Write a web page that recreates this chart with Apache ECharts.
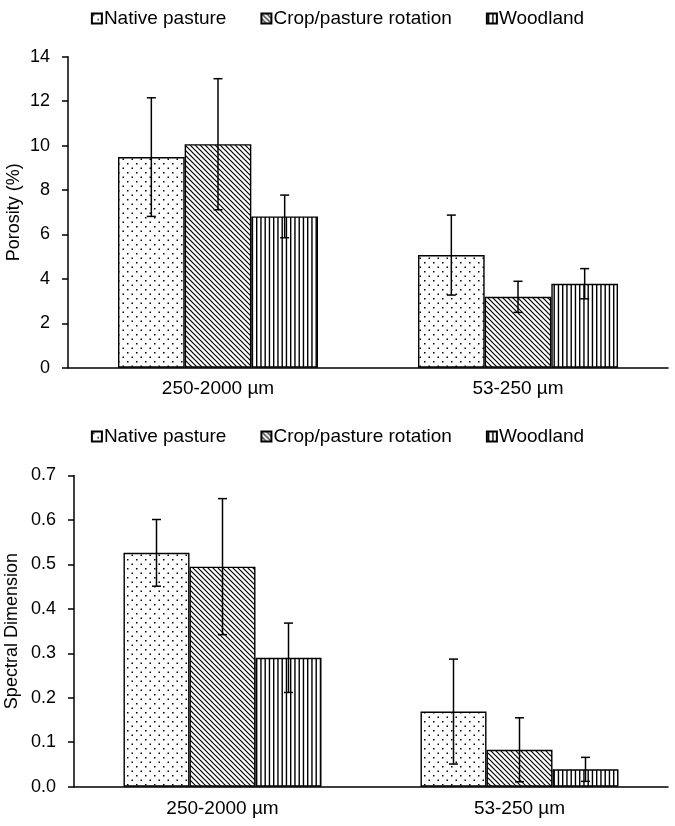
<!DOCTYPE html>
<html>
<head>
	<meta charset="utf-8">
	<title>Porosity and spectral dimension</title>
	<script type="text/javascript" src="https://cdn.jsdelivr.net/npm/echarts@6/dist/echarts.min.js"></script>
<style type="text/css">
html, body {
	margin: 0;
	padding: 0;
	background: #fff;
}
#main {
	width: 675px;
	height: 826px;
}
</style>
</head>
<body>
	<div id="main"></div>

<script type="text/javascript">

var categories = ['250-2000 µm', '53-250 µm'];
var seriesNames = ['Native pasture', 'Crop/pasture rotation', 'Woodland'];

// top panel: porosity (%), mean and +/- error
var porosityNative = [9.48, 5.07];
var porosityCrop = [10.06, 3.19];
var porosityWood = [6.81, 3.78];
var porosityNativeErr = [2.67, 1.8];
var porosityCropErr = [2.95, 0.7];
var porosityWoodErr = [0.96, 0.68];
var porosityTicks = [0, 14, 2];   // min, max, interval

// bottom panel: spectral dimension
var spectralNative = [0.526, 0.169];
var spectralCrop = [0.495, 0.083];
var spectralWood = [0.29, 0.039];
var spectralNativeErr = [0.075, 0.118];
var spectralCropErr = [0.153, 0.072];
var spectralWoodErr = [0.078, 0.027];
var spectralTicks = [0, 0.7, 0.1];

var FONT = '"Liberation Sans", Arial, sans-serif';
var GAP = 1 / 3;   // barCategoryGap

// fill patterns, drawn once on small canvases
function makeTile(w, h, draw)
{
	var c = document.createElement('canvas');
	c.width = w;
	c.height = h;
	var ctx = c.getContext('2d');
	ctx.fillStyle = '#fff';
	ctx.fillRect(0, 0, w, h);
	ctx.fillStyle = '#000';
	ctx.strokeStyle = '#000';
	draw(ctx, w, h);
	return c;
}

var dotTile = makeTile(9, 9, function(ctx){
	ctx.fillRect(1, 1, 1.5, 1.5);
	ctx.fillRect(5.5, 5.5, 1.5, 1.5);
});

var diagTile = makeTile(5, 5, function(ctx, w, h){
	ctx.lineWidth = 1.2;
	for (var k = -w; k <= w; k += w)
	{
		ctx.beginPath();
		ctx.moveTo(-1, k - 1);
		ctx.lineTo(w + 1, k + w + 1);
		ctx.stroke();
	}
});

var vertTile = makeTile(17, 4, function(ctx){
	for (var i = 0; i < 4; i ++)
	{
		ctx.fillRect(1 + i * 4.25, 0, 1.4, 4);
	}
});

var patterns = [
	{image: dotTile, repeat: 'repeat'},
	{image: diagTile, repeat: 'repeat'},
	{image: vertTile, repeat: 'repeat'}
];

function barSeries(name, idx, axisIdx, data)
{
	return {
		name: name,
		type: 'bar',
		xAxisIndex: axisIdx,
		yAxisIndex: axisIdx,
		data: data,
		barGap: '0%',
		barCategoryGap: (GAP * 100) + '%',
		itemStyle: {
			color: patterns[idx],
			borderColor: '#000',
			borderWidth: 1.4
		},
		emphasis: {disabled: true},
		silent: true
	};
}

// rows: [category, seriesIdx, low, high]
function errorRows(means, errs)
{
	var rows = [];
	for (var s = 0; s < means.length; s ++)
	{
		for (var c = 0; c < means[s].length; c ++)
		{
			rows.push([c, s, means[s][c] - errs[s][c], means[s][c] + errs[s][c]]);
		}
	}
	return rows;
}

function renderError(params, api)
{
	var c = api.value(0);
	var s = api.value(1);
	var lo = api.coord([c, api.value(2)]);
	var hi = api.coord([c, api.value(3)]);
	var band = api.size([1, 0])[0];
	var bw = band * (1 - GAP) / 3;
	var x = lo[0] + (s - 1) * bw;
	var cap = 4.5;
	var st = {stroke: '#000', lineWidth: 1.5};
	return {
		type: 'group',
		children: [
			{type: 'line', shape: {x1: x, y1: hi[1], x2: x, y2: lo[1]}, style: st},
			{type: 'line', shape: {x1: x - cap, y1: hi[1], x2: x + cap, y2: hi[1]}, style: st},
			{type: 'line', shape: {x1: x - cap, y1: lo[1], x2: x + cap, y2: lo[1]}, style: st}
		]
	};
}

function errorSeries(axisIdx, rows)
{
	return {
		type: 'custom',
		xAxisIndex: axisIdx,
		yAxisIndex: axisIdx,
		renderItem: renderError,
		encode: {x: 0, y: [2, 3]},
		data: rows,
		z: 5,
		silent: true
	};
}

function xAxisOpt(gridIdx, margin)
{
	return {
		type: 'category',
		gridIndex: gridIdx,
		data: categories,
		axisLine: {lineStyle: {color: '#000', width: 1.5}},
		axisTick: {length: 6, lineStyle: {color: '#000', width: 1.5}},
		axisLabel: {color: '#000', fontSize: 19, fontFamily: FONT, margin: margin}
	};
}

function yAxisOpt(gridIdx, name, ticks, digits, gap)
{
	return {
		type: 'value',
		gridIndex: gridIdx,
		min: ticks[0],
		max: ticks[1],
		interval: ticks[2],
		name: name,
		nameLocation: 'middle',
		nameGap: gap,
		nameMoveOverlap: false,
		nameTextStyle: {color: '#000', fontSize: 18, fontFamily: FONT},
		splitLine: {show: false},
		axisLine: {show: true, lineStyle: {color: '#000', width: 1.5}},
		axisTick: {show: true, length: 6, lineStyle: {color: '#000', width: 1.5}},
		axisLabel: {
			color: '#000', fontSize: 18, fontFamily: FONT, margin: 18,
			formatter: function(v){ return v.toFixed(digits); }
		}
	};
}

function legendOpt(top)
{
	return {
		top: top,
		left: 'center',
		data: seriesNames,
		itemWidth: 10,
		itemHeight: 10,
		itemGap: 34,
		icon: 'rect',
		selectedMode: false,
		textStyle: {color: '#000', fontSize: 19, fontFamily: FONT, padding: [0, 0, 0, -3]}
	};
}

var chart = echarts.init(document.getElementById('main'), null, {renderer: 'canvas'});

var option = {
	backgroundColor: '#fff',
	animation: false,
	legend: [legendOpt(4), legendOpt(422)],
	grid: [
		{left: 68, right: 7, top: 56.7, height: 311, containLabel: false, outerBoundsMode: 'none'},
		{left: 74, right: 7, top: 475.5, height: 311.2, containLabel: false, outerBoundsMode: 'none'}
	],
	xAxis: [xAxisOpt(0, 12), xAxisOpt(1, 13)],
	yAxis: [
		yAxisOpt(0, 'Porosity (%)', porosityTicks, 0, 45),
		yAxisOpt(1, 'Spectral Dimension', spectralTicks, 1, 53)
	],
	series: [
		barSeries(seriesNames[0], 0, 0, porosityNative),
		barSeries(seriesNames[1], 1, 0, porosityCrop),
		barSeries(seriesNames[2], 2, 0, porosityWood),
		errorSeries(0, errorRows(
			[porosityNative, porosityCrop, porosityWood],
			[porosityNativeErr, porosityCropErr, porosityWoodErr])),
		barSeries(seriesNames[0], 0, 1, spectralNative),
		barSeries(seriesNames[1], 1, 1, spectralCrop),
		barSeries(seriesNames[2], 2, 1, spectralWood),
		errorSeries(1, errorRows(
			[spectralNative, spectralCrop, spectralWood],
			[spectralNativeErr, spectralCropErr, spectralWoodErr]))
	]
};
chart.setOption(option);
</script>
</body>
</html>
